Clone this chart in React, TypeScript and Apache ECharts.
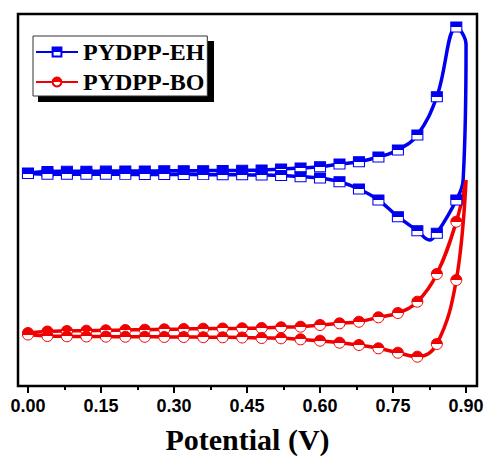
import React, { useEffect, useRef } from 'react';
import * as echarts from 'echarts';

// Tick label / tick positions on the potential axis (V)
const xLabelValues = [0, 0.15, 0.3, 0.45, 0.6, 0.75, 0.9];
const xMinorTickValues = [0.075, 0.225, 0.375, 0.525, 0.675, 0.825];

// PYDPP-EH: forward scan (0 -> 0.90 V)
const ehForwardPotential = [0, 0.04, 0.08, 0.12, 0.16, 0.2, 0.24, 0.28, 0.32, 0.36, 0.4, 0.44, 0.48, 0.52, 0.56, 0.6, 0.64, 0.68, 0.72, 0.76, 0.8, 0.84, 0.88, 0.9];
const ehForwardCurrent = [57.26, 57.66, 57.71, 57.74, 57.77, 57.8, 57.8, 57.85, 57.88, 57.9, 57.93, 57.98, 58.06, 58.33, 58.6, 58.95, 59.68, 60.3, 61.56, 63.44, 67.47, 77.77, 96.51, 91.67];
// PYDPP-EH: reverse scan (0.90 -> 0 V)
const ehReversePotential = [0.894, 0.88, 0.84, 0.825, 0.8, 0.76, 0.72, 0.68, 0.64, 0.6, 0.56, 0.52, 0.48, 0.44, 0.4, 0.36, 0.32, 0.28, 0.24, 0.2, 0.16, 0.12, 0.08, 0.04, 0];
const ehReverseCurrent = [55.38, 50.0, 41.05, 39.25, 41.75, 45.51, 50.0, 52.96, 54.92, 55.91, 56.26, 56.59, 56.72, 56.77, 56.8, 56.82, 56.84, 56.86, 56.88, 56.89, 56.9, 56.91, 56.92, 56.94, 57.12];

// PYDPP-BO: forward scan
const boForwardPotential = [0, 0.04, 0.08, 0.12, 0.16, 0.2, 0.24, 0.28, 0.32, 0.36, 0.4, 0.44, 0.48, 0.52, 0.56, 0.6, 0.64, 0.68, 0.72, 0.76, 0.8, 0.84, 0.88, 0.9];
const boForwardCurrent = [14.25, 14.65, 14.78, 14.87, 14.97, 15.05, 15.13, 15.24, 15.32, 15.4, 15.46, 15.51, 15.59, 15.78, 15.94, 16.4, 16.85, 17.28, 18.47, 19.62, 22.66, 30.11, 44.17, 55.38];
// PYDPP-BO: reverse scan
const boReversePotential = [0.88, 0.84, 0.8, 0.76, 0.72, 0.68, 0.64, 0.6, 0.56, 0.52, 0.48, 0.44, 0.4, 0.36, 0.32, 0.28, 0.24, 0.2, 0.16, 0.12, 0.08, 0.04, 0];
const boReverseCurrent = [28.49, 11.29, 7.88, 8.95, 10.13, 11.02, 11.64, 12.18, 12.55, 12.82, 12.9, 13.04, 13.09, 13.12, 13.17, 13.19, 13.23, 13.25, 13.28, 13.31, 13.36, 13.44, 13.84];

const BLUE = '#0000f0';
const RED = '#f00000';

function buildLoop(px1: number[], cy1: number[], px2: number[], cy2: number[]) {
  const pts: any[] = [];
  const push = (x: number, y: number) => {
    const onGrid = Math.abs(Math.round(x * 100) % 4) === 0 && Math.abs(x * 100 - Math.round(x * 100)) < 1e-6;
    pts.push(onGrid ? { value: [x, y] } : { value: [x, y], symbol: 'none' });
  };
  px1.forEach((x, i) => push(x, cy1[i]));
  px2.forEach((x, i) => push(x, cy2[i]));
  return pts;
}

function halfFill(color: string) {
  return new echarts.graphic.LinearGradient(0, 0, 0, 1, [
    { offset: 0, color },
    { offset: 0.5, color },
    { offset: 0.5, color: '#ffffff' },
    { offset: 1, color: '#ffffff' },
  ]);
}

export default function App() {
  const ref = useRef<HTMLDivElement>(null);
  useEffect(() => {
    if (!ref.current) return;
    const chart = echarts.init(ref.current, undefined, { renderer: 'svg' });
    const XMIN = -0.0205;
    const XMAX = 0.9225;
    chart.setOption({
      animation: false,
      backgroundColor: '#ffffff',
      grid: {
        left: 18,
        right: 11,
        top: 14,
        bottom: 75,
        show: true,
        borderColor: '#000',
        borderWidth: 2.5,
        backgroundColor: 'transparent',
      },
      graphic: {
        elements: [
          {
            type: 'rect',
            z: 3,
            shape: { x: 38, y: 41, width: 176, height: 61 },
            style: { fill: '#000' },
          },
        ],
      },
      legend: {
        left: 33,
        top: 36,
        z: 10,
        orient: 'vertical',
        data: ['PYDPP-EH', 'PYDPP-BO'],
        itemWidth: 42,
        itemHeight: 11,
        itemGap: 6,
        padding: [4, 3, 2, 2],
        backgroundColor: '#fff',
        borderColor: '#333',
        borderWidth: 1,
        textStyle: {
          fontFamily: 'Liberation Serif',
          fontWeight: 'bold',
          fontSize: 24,
          color: '#000',
        },
      },
      xAxis: [
        {
          type: 'value',
          min: XMIN,
          max: XMAX,
          position: 'bottom',
          name: 'Potential (V)',
          nameLocation: 'middle',
          nameGap: 38,
          nameTextStyle: {
            fontFamily: 'Liberation Serif',
            fontWeight: 'bold',
            fontSize: 30,
            color: '#000',
          },
          axisLine: { show: false },
          splitLine: { show: false },
          axisTick: {
            show: true,
            inside: false,
            length: 7,
            customValues: xLabelValues,
            lineStyle: { color: '#000', width: 2 },
          },
          axisLabel: {
            show: true,
            customValues: xLabelValues,
            margin: 11,
            fontFamily: 'Liberation Sans',
            fontWeight: 'bold',
            fontSize: 18,
            color: '#000',
            formatter: (v: number) => v.toFixed(2),
          },
        },
        {
          type: 'value',
          min: XMIN,
          max: XMAX,
          position: 'bottom',
          axisLine: { show: false },
          splitLine: { show: false },
          axisLabel: { show: false },
          axisTick: {
            show: true,
            inside: false,
            length: 4,
            customValues: xMinorTickValues,
            lineStyle: { color: '#000', width: 2 },
          },
        },
      ],
      yAxis: {
        type: 'value',
        min: 0,
        max: 100,
        axisLine: { show: false },
        axisTick: { show: false },
        axisLabel: { show: false },
        splitLine: { show: false },
      },
      series: [
        {
          name: 'PYDPP-EH',
          type: 'line',
          xAxisIndex: 0,
          smooth: 0.4,
          data: buildLoop(ehForwardPotential, ehForwardCurrent, ehReversePotential, ehReverseCurrent),
          symbol: 'rect',
          symbolSize: [11, 10],
          showSymbol: true,
          lineStyle: { color: BLUE, width: 3.5 },
          itemStyle: { color: halfFill(BLUE), borderColor: BLUE, borderWidth: 1 },
          emphasis: { disabled: true },
        },
        {
          name: 'PYDPP-BO',
          type: 'line',
          xAxisIndex: 0,
          smooth: 0.4,
          data: buildLoop(boForwardPotential, boForwardCurrent, boReversePotential, boReverseCurrent),
          symbol: 'circle',
          symbolSize: 11,
          showSymbol: true,
          lineStyle: { color: RED, width: 3.5 },
          itemStyle: { color: halfFill(RED), borderColor: RED, borderWidth: 1 },
          emphasis: { disabled: true },
        },
      ],
    });
    return () => chart.dispose();
  }, []);
  return (
    <div
      ref={ref}
      style={{ position: 'fixed', left: 0, top: 0, width: 488, height: 461, background: '#fff' }}
    />
  );
}
